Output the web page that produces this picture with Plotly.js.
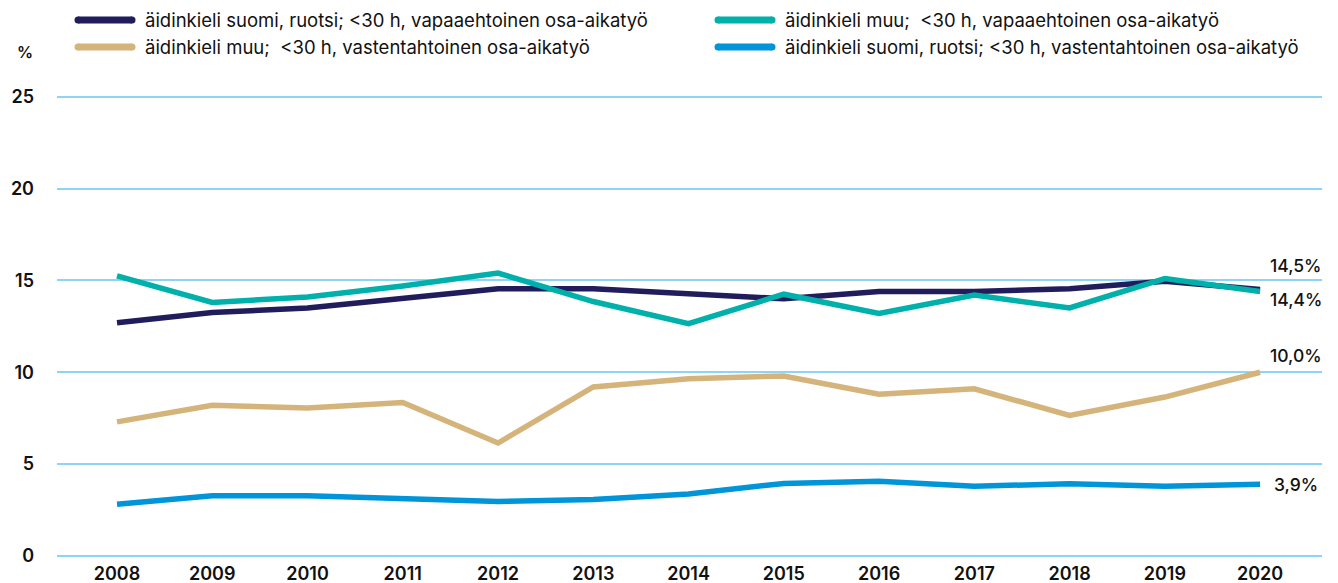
<!DOCTYPE html>
<html>
<head>
<meta charset="utf-8">
<script src="https://cdn.plot.ly/plotly-3.0.1.min.js"></script>
<style>html,body{margin:0;padding:0;background:#fff;}#chart{width:1338px;height:583px;}</style>
</head>
<body>
<div id="chart"></div>
<script>
const years = [2008,2009,2010,2011,2012,2013,2014,2015,2016,2017,2018,2019,2020];
const seriesNames = [
  "äidinkieli suomi, ruotsi; <30 h, vapaaehtoinen osa-aikatyö",
  "äidinkieli muu;  <30 h, vapaaehtoinen osa-aikatyö",
  "äidinkieli muu;  <30 h, vastentahtoinen osa-aikatyö",
  "äidinkieli suomi, ruotsi; <30 h, vastentahtoinen osa-aikatyö"
];
const suomiVapaa   = [12.7,13.25,13.5,14.05,14.55,14.55,14.25,14.0,14.4,14.4,14.55,14.95,14.5];
const muuVapaa     = [15.25,13.8,14.1,14.7,15.4,13.85,12.65,14.25,13.2,14.2,13.5,15.1,14.4];
const muuVasten    = [7.3,8.2,8.05,8.35,6.15,9.2,9.65,9.8,8.8,9.1,7.65,8.65,10.0];
const suomiVasten  = [2.82,3.28,3.28,3.13,2.97,3.07,3.38,3.95,4.07,3.8,3.93,3.8,3.9];
const endLabels = ["14,5%","14,4%","10,0%","3,9%"];
const yTicks = [0,5,10,15,20,25];

const colors = ["#211c5c","#00b0aa","#d4b47a","#0095d9"];
const allSeries = [suomiVapaa, muuVapaa, muuVasten, suomiVasten];
const FONT = 'Inter, "Open Sans", sans-serif';

const W = 1338, H = 583;
const M = {l:57, r:16, t:93, b:27};
const PW = W - M.l - M.r, PH = H - M.t - M.b;
const px2x = px => (px - M.l) / PW;
const py2y = py => (H - M.b - py) / PH;

const traces = allSeries.map((ys,i)=>({
  x: years, y: ys, name: seriesNames[i], type:'scatter', mode:'lines',
  line:{color:colors[i], width:5.5, shape:'linear'},
  showlegend:false, cliponaxis:false, hoverinfo:'skip'
}));

const last = years[years.length-1];
const labelShifts = [[8,24],[8,-8],[8,17],[12,0]];
const annotations = allSeries.map((ys,i)=>({
  x: last, y: ys[ys.length-1], xref:'x', yref:'y', text:endLabels[i],
  showarrow:false, xanchor:'left', yanchor:'middle',
  xshift: labelShifts[i][0], yshift: labelShifts[i][1],
  font:{family:FONT, size:17.5, color:'#111', weight:500}
}));
annotations.push({
  xref:'paper', yref:'paper', x:px2x(25), y:py2y(52), text:'%', showarrow:false,
  xanchor:'center', yanchor:'middle',
  font:{family:FONT, size:16, color:'#111', weight:600}
});

// legend drawn as swatch + text (2 columns x 2 rows, row-wise order)
const legCols = [75, 715], legRows = [20, 47];
const shapes = [];
seriesNames.forEach((nm,i)=>{
  const cx = legCols[i % 2], cy = legRows[Math.floor(i / 2)];
  shapes.push({type:'line', xref:'paper', yref:'paper',
    x0:px2x(cx+3), x1:px2x(cx+57), y0:py2y(cy), y1:py2y(cy),
    line:{color:colors[i], width:7}});
  shapes.push({type:'circle', xref:'paper', yref:'paper',
    x0:px2x(cx-0.5), x1:px2x(cx+6.5), y0:py2y(cy+3.5), y1:py2y(cy-3.5),
    fillcolor:colors[i], line:{width:0}});
  shapes.push({type:'circle', xref:'paper', yref:'paper',
    x0:px2x(cx+53.5), x1:px2x(cx+60.5), y0:py2y(cy+3.5), y1:py2y(cy-3.5),
    fillcolor:colors[i], line:{width:0}});
  annotations.push({xref:'paper', yref:'paper', x:px2x(cx+68), y:py2y(cy),
    text:nm, showarrow:false, xanchor:'left', yanchor:'middle',
    font:{family:FONT, size:18.5, color:'#111'}});
});

const layout = {
  width:W, height:H,
  margin:M,
  paper_bgcolor:'#fff', plot_bgcolor:'#fff',
  showlegend:false,
  xaxis:{
    range:[2007.37, 2020.65], tickmode:'array', tickvals:years, ticktext:years.map(String),
    showgrid:false, zeroline:false, showline:false, ticks:'',
    tickfont:{family:FONT, size:18, color:'#111', weight:600},
    ticklabelstandoff:5
  },
  yaxis:{
    range:[0,25.2], tickmode:'array', tickvals:yTicks, ticktext:yTicks.map(String),
    showgrid:true, gridcolor:'#8fd4f6', gridwidth:2,
    zeroline:true, zerolinecolor:'#8fd4f6', zerolinewidth:2,
    showline:false, ticks:'',
    tickfont:{family:FONT, size:18, color:'#111', weight:600},
    ticklabelstandoff:22
  },
  shapes: shapes,
  annotations: annotations
};

Plotly.newPlot('chart', traces, layout, {displayModeBar:false, staticPlot:true});
</script>
</body>
</html>
